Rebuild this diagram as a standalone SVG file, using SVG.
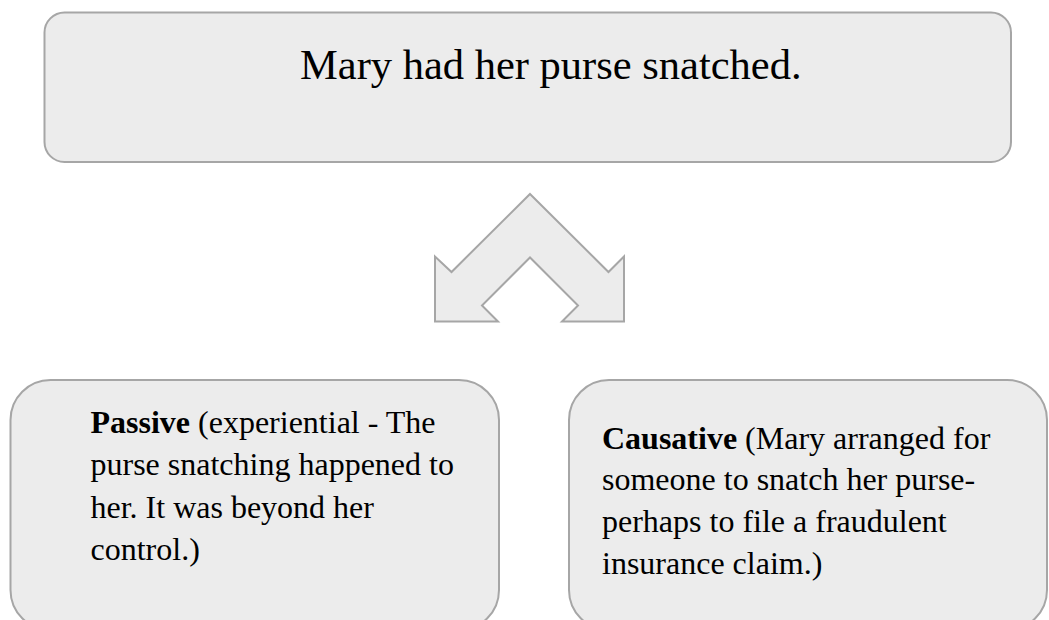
<svg xmlns="http://www.w3.org/2000/svg" width="1049" height="620" viewBox="0 0 1049 620">
<style>
.box{fill:#ececec;stroke:#a6a6a6;stroke-width:2}
.t{font-family:"Liberation Serif","Times New Roman",serif;fill:#000}
.big{font-size:42.5px}
.body{font-size:32px}
.b{font-weight:bold}
</style>
<rect x="0" y="0" width="1049" height="620" fill="#ffffff"/>
<g id="top">
<rect class="box" x="44.5" y="12.5" width="966.5" height="149.5" rx="20" ry="20"/>
<text class="t big" x="300" y="79">Mary had her purse snatched.</text>
</g>
<g id="connectors">
<polygon class="box" points="530,194 608.5,272 624,256.5 624,321.5 562,321.5 578,305.5 530,257.5 482,305.5 498,321.5 435,321.5 435,256.5 451.5,272"/>
</g>
<g id="passive">
<rect class="box" x="10.5" y="380" width="488.5" height="250" rx="40" ry="40"/>
<text class="t body" x="90.5"><tspan x="90.5" y="433"><tspan class="b">Passive</tspan> (experiential - The</tspan><tspan x="90.5" y="475.3">purse snatching happened to</tspan><tspan x="90.5" y="517.6">her. It was beyond her</tspan><tspan x="90.5" y="560">control.)</tspan></text>
</g>
<g id="causative">
<rect class="box" x="569" y="380" width="478" height="250" rx="40" ry="40"/>
<text class="t body" x="602"><tspan x="602" y="448.5"><tspan class="b">Causative</tspan> (Mary arranged for</tspan><tspan x="602" y="490">someone to snatch her purse-</tspan><tspan x="602" y="532">perhaps to file a fraudulent</tspan><tspan x="602" y="574">insurance claim.)</tspan></text>
</g>
</svg>
